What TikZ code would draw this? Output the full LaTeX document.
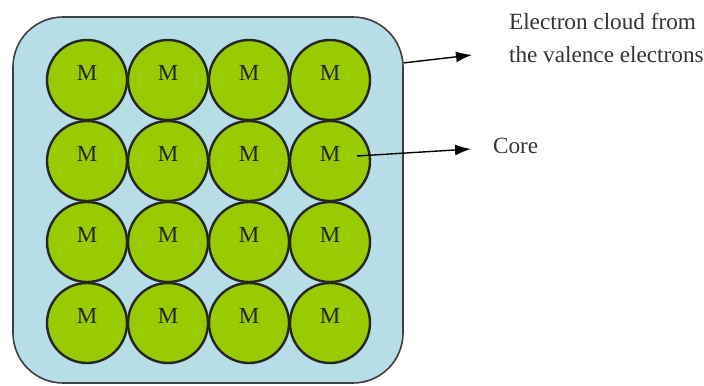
\documentclass[tikz,border=0pt]{standalone}
\usepackage{fontspec}
\setmainfont{Liberation Serif}
\usetikzlibrary{arrows.meta}
\definecolor{cloud_blue}{RGB}{183, 221, 230}
\definecolor{core_green}{RGB}{153, 204, 0}
\tikzstyle{electroncloud} = [rectangle, rounded corners=25pt, minimum width=195pt, minimum height=183pt, draw=black!75, line width=0.8pt, fill=cloud_blue]
\tikzstyle{metal} = [circle, minimum size=40pt, inner sep=0pt, text depth=7pt, draw=black!85, line width=1.2pt, fill=core_green, text=black!85, font=\fontsize{11.5}{14}\selectfont]
\tikzstyle{note} = [text=black!80, align=left, font=\fontsize{11.6}{16.5}\selectfont]
\tikzstyle{arrow} = [line width=0.7pt, -{Latex[length=8pt, width=5.5pt]}]

\begin{document}
\begin{tikzpicture}[x=0.5pt, y=-0.5pt, node distance=40.5pt]
        \useasboundingbox (0,0) rectangle (704,385);
        \node (cloud) [electroncloud] at (208,200) {};

        \node (m11) [metal] at (87,80) {M};
        \node (m12) [metal, right of=m11] {M};
        \node (m13) [metal, right of=m12] {M};
        \node (m14) [metal, right of=m13] {M};

        \node (m21) [metal, below of=m11] {M};
        \node (m22) [metal, right of=m21] {M};
        \node (m23) [metal, right of=m22] {M};
        \node (m24) [metal, right of=m23] {M};

        \node (m31) [metal, below of=m21] {M};
        \node (m32) [metal, right of=m31] {M};
        \node (m33) [metal, right of=m32] {M};
        \node (m34) [metal, right of=m33] {M};

        \node (m41) [metal, below of=m31] {M};
        \node (m42) [metal, right of=m41] {M};
        \node (m43) [metal, right of=m42] {M};
        \node (m44) [metal, right of=m43] {M};

        \node (cloudtext) [note, anchor=west] at (502,38) {Electron cloud from\\the valence electrons};
        \node (coretext) [note, anchor=west] at (486,146) {Core};
        \coordinate (cloudtip) at (472,55);
        \coordinate (coretip) at (471,149);

        \draw [arrow] (cloud.35) -- (cloudtip);
        \draw [arrow] ([xshift=13.5pt, yshift=2.5pt]m24.center) -- (coretip);
    \end{tikzpicture}
\end{document}
